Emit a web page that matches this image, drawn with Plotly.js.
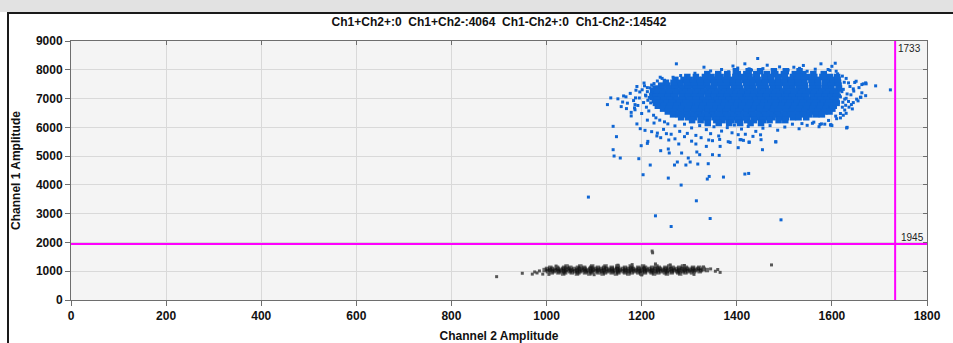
<!DOCTYPE html>
<html><head><meta charset="utf-8">
<script src="https://cdn.plot.ly/plotly-3.0.1.min.js"></script>
<style>
html,body{margin:0;padding:0;width:953px;height:343px;overflow:hidden;background:#ffffff;}
#strip{position:absolute;left:0;top:0;width:953px;height:12px;background:#e2e2e2;}
#frame{position:absolute;left:7px;top:12px;width:946px;height:331px;background:#fff;border-left:2px solid #1a1a1a;border-top:2px solid #1a1a1a;}
#chart{position:absolute;left:0;top:0;width:953px;height:343px;}
</style></head><body><div id="strip"></div><div id="frame"></div><div id="chart"></div>
<script>
// ---- data ----
const titleText = 'Ch1+Ch2+:0\u00a0 Ch1+Ch2-:4064\u00a0 Ch1-Ch2+:0\u00a0 Ch1-Ch2-:14542';
const thresholdCh2 = 1733;   // vertical line (Channel 2 Amplitude)
const thresholdCh1 = 1945;   // horizontal line (Channel 1 Amplitude)

// Blue (Ch1+) dense core, one row of x values per y level
const blueCoreY = [7950,7850,7750,7650,7550,7450,7350,7250,7150,7050,6950,6850,6750,6650,6550,6450,6350,6250,6150];
const blueCoreX = [
 [1398,1425,1449,1478,1503,1532],
 [1338,1361,1380,1402,1420,1441,1463,1481,1499,1522,1540,1561,1583],
 [1296,1314,1333,1347,1366,1380,1397,1411,1427,1442,1458,1471,1488,1501,1518,1531,1549,1563,1580,1596,1611],
 [1271,1288,1301,1318,1330,1346,1359,1375,1388,1401,1417,1430,1444,1459,1472,1486,1501,1513,1528,1541,1557,1570,1586,1598,1612],
 [1251,1267,1280,1295,1308,1323,1336,1351,1363,1379,1392,1404,1420,1433,1447,1459,1474,1488,1499,1516,1529,1542,1558,1571,1585,1601,1613],
 [1241,1254,1269,1282,1297,1310,1325,1337,1353,1366,1378,1394,1405,1421,1433,1448,1460,1476,1487,1503,1515,1530,1543,1559,1571,1586,1598,1614],
 [1229,1242,1258,1270,1286,1297,1313,1325,1341,1352,1368,1380,1395,1407,1423,1434,1450,1462,1477,1489,1505,1517,1532,1544,1560,1572,1587,1599,1615],
 [1224,1237,1248,1265,1276,1292,1304,1319,1331,1347,1359,1374,1386,1402,1413,1429,1441,1457,1468,1484,1496,1511,1523,1539,1551,1566,1578,1594,1605],
 [1226,1232,1244,1259,1271,1287,1299,1314,1326,1342,1354,1369,1381,1397,1409,1424,1436,1452,1464,1479,1491,1507,1519,1534,1546,1562,1574,1589,1601,1610],
 [1223,1229,1241,1256,1268,1284,1296,1311,1323,1339,1351,1366,1378,1394,1406,1421,1433,1449,1461,1476,1488,1504,1516,1531,1543,1559,1571,1586,1598,1608],
 [1228,1231,1247,1259,1274,1286,1302,1314,1329,1341,1357,1369,1384,1396,1412,1424,1439,1451,1467,1479,1494,1506,1522,1534,1549,1561,1577,1589,1604],
 [1230,1237,1252,1264,1280,1292,1307,1319,1335,1347,1362,1374,1390,1402,1417,1429,1445,1457,1472,1484,1500,1512,1527,1539,1555,1567,1582,1594,1610],
 [1234,1246,1262,1274,1289,1301,1317,1329,1344,1356,1372,1384,1399,1411,1427,1439,1454,1466,1482,1494,1509,1521,1537,1549,1564,1576,1592,1604],
 [1245,1257,1272,1284,1300,1312,1327,1339,1355,1367,1382,1394,1410,1422,1437,1449,1465,1477,1492,1504,1520,1532,1547,1559,1575,1587,1601],
 [1255,1267,1283,1295,1310,1322,1338,1350,1365,1377,1393,1405,1420,1432,1448,1460,1475,1487,1503,1515,1530,1542,1558,1570,1584,1595],
 [1266,1278,1294,1305,1321,1333,1349,1360,1376,1388,1404,1415,1431,1443,1459,1470,1486,1498,1514,1525,1541,1553,1567,1579],
 [1283,1298,1310,1326,1338,1353,1365,1381,1393,1408,1420,1436,1448,1463,1475,1491,1503,1518,1530,1546],
 [1306,1324,1339,1357,1370,1389,1403,1422,1436,1455,1469,1488,1502],
 [1339,1362,1384,1407,1429,1451]
];

// Blue halo and sparse outliers (x = Channel 2, y = Channel 1)
const blueSparseX = [
 1190,1201,1176,1208,1195,1183,1204,1170,1192,1210,1186,1215,1200,1225,1178,1230,1212,1160,1150,1196,1212,1226,1233,1243,1221,1205,1188,1167,1157,1238,1248,1226,
 1255,1270,1290,1305,1322,1336,1352,1368,1380,1395,1410,1424,1440,1455,1470,1486,1501,1517,1531,1548,1562,1578,1593,1610,1280,1296,1314,1345,1362,1390,1418,1450,1246,1233,1262,1600,1585,1573,1559,
 1312,1345,1368,1383,1402,1431,1455,1477,1490,1508,1532,1548,1565,1580,1596,1612,1622,1630,1282,1266,1331,1392,1540,1600,
 1638,1646,1640,1652,1645,1636,1627,1618,1648,1657,1663,1671,1655,1643,1624,1608,1621,1632,1618,1627,1635,1624,1616,1630,1641,1622,1614,1219,1216,1213,1219,1212,1209,
 1273,1444,1417,1426,1464,1520,1577,1607,1592,1609,
 1239,1248,1206,1218,1223,1135,1162,1128,1168,1178,1187,1186,1185,1140,1147,1190,1197,1207,1213,
 1221,1232,1240,1252,1257,1270,1290,1305,1325,1341,1364,1382,
 1626,1635,1651,1645,1663,1672,1660,1623,1629,1618,1630,1632,1597,1575,1537,
 1482,1451,1426,1409,1403,1434,
 1692,1671,1666,1723,1661,1598,1631,
 1140,1142,1155,1194,1199,1212,1218,1203,1240,1256,1258,1256,1278,1284,1275,1269,1293,1298,1302,1283,1314,1316,1322,1318,1336,1349,1365,1349,1363,1340,1342,1338,1372,1315,1344,1262,1229,1088,
 1386,1403,1407,1414,1426,1454,1482,1417,1425,1493
];
const blueSparseY = [
 7420,7305,7180,7120,7020,6930,6860,6840,6760,6700,6610,6570,6480,6420,6520,6330,6250,6880,6990,7230,7380,7520,7610,7700,7470,7540,7290,7060,6720,6250,6190,6150,
 6120,6050,6110,5980,6060,5920,6020,5870,5990,6080,5940,6030,5860,5970,6060,5900,6010,6110,5950,6070,6180,6120,6240,6300,5860,5790,5720,5780,5700,5810,5760,5740,5930,5800,5760,6060,6110,6020,6140,
 7880,7960,8010,7930,8060,7990,8040,7920,8100,7990,8050,7950,8020,7900,7980,7860,7780,7700,7800,7740,8090,8130,8150,8120,
 7420,7260,7130,6980,6860,6700,6600,6480,7560,7380,7200,7100,6920,6640,6420,6390,7240,7160,7060,6980,6900,7320,7120,7010,6790,6700,6860,7150,7040,6940,6850,7240,7090,
 8207,8392,8207,8033,8159,8089,8207,8228,8009,7950,
 7741,7636,7441,7371,7312,7023,7091,6790,6651,6396,7023,6790,6675,6035,5676,6118,5954,5895,5512,
 5850,5700,5640,5780,5560,5600,5676,5520,5640,5560,5580,5500,
 7567,7545,7602,7336,7486,7511,7045,6871,6766,6327,6487,6000,6080,6100,6130,
 5491,5571,5491,5571,5745,5686,
 7441,7545,7511,7302,7045,6094,5978,
 5223,5003,4934,4910,5362,5442,4690,4353,5188,5247,5108,4237,5421,5108,4795,4690,4690,4934,4795,3994,5421,5143,5049,4725,5338,5536,5338,5049,5025,4736,4294,4203,4272,3447,2831,2553,2925,3576,
 5477,5293,5571,5547,5477,5223,5502,4377,4398,2786
];

// Grey (Ch1-Ch2-) band, one row of x values per y level
const greyCoreY = [1165,1120,1080,1040,1000,960,920];
const greyCoreX = [
 [1042,1071,1096,1124,1149,1177,1203,1231,1258,1287],
 [1008,1022,1037,1050,1066,1079,1094,1108,1121,1137,1150,1165,1179,1193,1207,1222,1236,1250,1265,1279,1293,1308,1321],
 [1001,1012,1024,1035,1046,1058,1069,1080,1092,1103,1114,1126,1137,1148,1160,1171,1182,1194,1205,1216,1228,1239,1250,1262,1273,1284,1296,1307,1318,1330],
 [996,1007,1018,1030,1041,1052,1064,1075,1086,1098,1109,1120,1132,1143,1154,1166,1177,1188,1200,1211,1222,1234,1245,1256,1268,1279,1290,1302,1313,1325,1337],
 [1003,1015,1026,1037,1049,1060,1071,1083,1094,1105,1117,1128,1139,1151,1162,1173,1185,1196,1207,1219,1230,1241,1253,1264,1275,1287,1298,1310,1322],
 [1011,1025,1039,1053,1067,1081,1095,1109,1123,1137,1151,1165,1179,1193,1207,1221,1235,1249,1263,1277,1292,1306],
 [1035,1064,1090,1118,1146,1172,1199,1226,1253,1281]
];
const greySparseX = [895,949,970,975,980,985,992,1355,1360,1365,1345,1473,1222,1223,1229,1290,1150,1100,1200,1310,1330,1020,1005,1260,1180];
const greySparseY = [811,929,900,975,940,1010,900,1000,1060,960,1080,1219,1700,1640,1253,1200,1210,880,870,890,1150,1180,890,1220,1230];

// ---- build traces ----
function flatten(rowsY, rowsX){
  const xs=[], ys=[];
  rowsX.forEach((row,i)=>row.forEach(v=>{xs.push(v); ys.push(rowsY[i]);}));
  return {x:xs, y:ys};
}
const blueCore = flatten(blueCoreY, blueCoreX);
const greyCore = flatten(greyCoreY, greyCoreX);
const BLUE = '#0f66d4';
const FONT = 'Liberation Sans, Arial, sans-serif';

const traces = [
 {type:'scatter', mode:'markers', x:greyCore.x, y:greyCore.y, hoverinfo:'skip',
  marker:{symbol:'square', size:4.5, color:'rgba(15,15,15,0.6)', line:{width:0}}},
 {type:'scatter', mode:'markers', x:greySparseX, y:greySparseY, hoverinfo:'skip',
  marker:{symbol:'square', size:3, color:'rgba(70,70,70,0.9)', line:{width:0}}},
 {type:'scatter', mode:'markers', x:blueCore.x, y:blueCore.y, hoverinfo:'skip',
  marker:{symbol:'square', size:6.5, color:BLUE, line:{width:0}}},
 {type:'scatter', mode:'markers', x:blueSparseX, y:blueSparseY, hoverinfo:'skip',
  marker:{symbol:'square', size:3, color:BLUE, line:{width:0}}},
 {type:'scatter', mode:'markers', x:[], y:[], xaxis:'x2', yaxis:'y2', hoverinfo:'skip'}
];

const tickFont = {family:FONT, size:12, color:'#111', weight:'bold'};
const layout = {
 width:953, height:343,
 margin:{l:71, r:26, t:41, b:43, pad:0},
 paper_bgcolor:'rgba(0,0,0,0)', plot_bgcolor:'#f4f4f4',
 showlegend:false,
 title:{text:titleText, font:{family:FONT, size:12, color:'#111', weight:'bold'},
        x:0.5, xref:'paper', xanchor:'center', y:1-22/343, yref:'container', yanchor:'middle'},
 xaxis:{range:[0,1800], dtick:200, tick0:0, showgrid:true, gridcolor:'#d9d9d9', gridwidth:1,
        zeroline:false, showline:true, linecolor:'#6e6e6e', linewidth:1, mirror:true,
        ticks:'outside', ticklen:5, tickcolor:'#6e6e6e', tickfont:tickFont,
        title:{text:'Channel 2 Amplitude', font:{family:FONT, size:12, color:'#111', weight:'bold'}, standoff:9}},
 yaxis:{range:[0,9000], dtick:1000, tick0:0, showgrid:true, gridcolor:'#d9d9d9', gridwidth:1,
        zeroline:false, showline:true, linecolor:'#6e6e6e', linewidth:1, mirror:true,
        ticks:'outside', ticklen:5, tickcolor:'#6e6e6e', tickfont:tickFont,
        title:{text:'Channel 1 Amplitude', font:{family:FONT, size:12, color:'#111', weight:'bold'}, standoff:12}},
 xaxis2:{overlaying:'x', side:'top', anchor:'y', range:[0,1800], dtick:200, showgrid:false, zeroline:false,
        showline:false, ticks:'inside', ticklen:4, tickcolor:'#6e6e6e', showticklabels:false},
 yaxis2:{overlaying:'y', side:'right', anchor:'x', range:[0,9000], dtick:1000, showgrid:false, zeroline:false,
        showline:false, ticks:'inside', ticklen:4, tickcolor:'#6e6e6e', showticklabels:false},
 shapes:[
  {type:'line', xref:'x', yref:'y', x0:0, x1:1800, y0:thresholdCh1, y1:thresholdCh1, line:{color:'#ff00ff', width:2}, layer:'above'},
  {type:'line', xref:'x', yref:'y', x0:thresholdCh2, x1:thresholdCh2, y0:0, y1:9000, line:{color:'#ff00ff', width:2}, layer:'above'}
 ],
 annotations:[
  {x:thresholdCh2, y:9000, xref:'x', yref:'y', text:String(thresholdCh2), showarrow:false,
   xanchor:'left', yanchor:'top', xshift:1, yshift:0, font:{family:FONT, size:10, color:'#222'}},
  {x:1800, y:thresholdCh1, xref:'x', yref:'y', text:String(thresholdCh1), showarrow:false,
   xanchor:'right', yanchor:'bottom', xshift:-1, yshift:-1, font:{family:FONT, size:10, color:'#222'}}
 ]
};
Plotly.newPlot('chart', traces, layout, {staticPlot:true, displayModeBar:false});
</script></body></html>
